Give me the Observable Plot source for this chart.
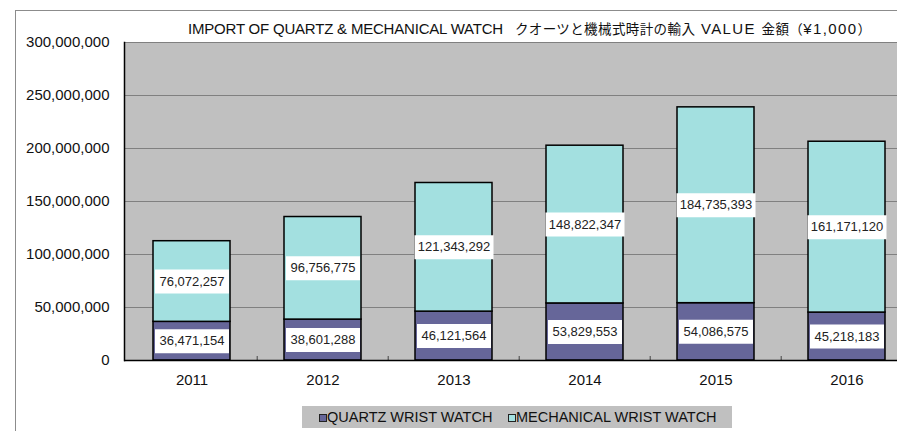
<!DOCTYPE html>
<html>
<head>
<meta charset="utf-8">
<script src="https://cdn.jsdelivr.net/npm/d3@7"></script>
<script src="https://cdn.jsdelivr.net/npm/@observablehq/plot@0.6"></script>
<style>
  html, body { margin: 0; padding: 0; background: #fff; overflow: hidden; }
  #wrap { position: relative; width: 897px; height: 431px; overflow: hidden; font-family: "Liberation Sans", Arial, "Noto Sans CJK JP", sans-serif; color: #111; }
  #border { position: absolute; left: 15px; top: 10px; width: 2000px; height: 2000px; border-left: 1px solid #8c8c8c; border-top: 1px solid #8c8c8c; }
  #chart { position: absolute; left: 0; top: 0; }
  #title { position: absolute; left: 188px; top: 21px; font-size: 15px; line-height: 15px; white-space: pre; font-family: "Liberation Sans", Arial, "Noto Sans CJK JP", sans-serif; }
  #title .lat { font-size: 15px; letter-spacing: -0.2px; }
  #title .wide { font-size: 15px; letter-spacing: 1.4px; }
  #title .cjk { font-size: 13.5px; letter-spacing: 0.4px; font-family: "Noto Sans CJK JP", sans-serif; }
  #legend { position: absolute; left: 302px; top: 406px; width: 430px; height: 22px; background: #C0C0C0; font-size: 14.5px; }
  .item { position: absolute; top: 3px; line-height: 16px; white-space: nowrap; }
  .sw { position: absolute; top: 4px; width: 6px; height: 6px; border: 1px solid #222; }
</style>
</head>
<body>
<div id="wrap">
  <div id="border"></div>
  <div id="chart"></div>
  <div id="title"></div>
  <div id="legend"></div>
</div>
<script>
const years = ["2011", "2012", "2013", "2014", "2015", "2016"];
const seriesNames = ["QUARTZ WRIST WATCH", "MECHANICAL WRIST WATCH"];
const seriesColors = ["#666699", "#A3E0E0"];
const quartz = [36471154, 38601288, 46121564, 53829553, 54086575, 45218183];
const mechanical = [76072257, 96756775, 121343292, 148822347, 184735393, 161171120];
const yTicks = [0, 50000000, 100000000, 150000000, 200000000, 250000000, 300000000];
const titleParts = [
  ["lat", "IMPORT OF QUARTZ & MECHANICAL WATCH   "],
  ["cjk", "クオーツと機械式時計の輸入"],
  ["wide", " VALUE "],
  ["cjk", "金額（"],
  ["wide", "¥1,000"],
  ["cjk", "）"]
];

const data = [];
years.forEach((y, i) => data.push({year: y, series: seriesNames[0], value: quartz[i]}));
years.forEach((y, i) => data.push({year: y, series: seriesNames[1], value: mechanical[i]}));

const fmt = d3.format(",");
const boxShort = {draw(ctx) { ctx.rect(-37, -12, 74, 24); }};
const boxLong = {draw(ctx) { ctx.rect(-39.5, -12, 79, 24); }};

const chart = Plot.plot({
  width: 914,
  height: 431,
  marginLeft: 124,
  marginRight: 0,
  marginTop: 42,
  marginBottom: 71,
  style: {fontFamily: "Liberation Sans, Arial, sans-serif", fontSize: "15px", background: "transparent", color: "#111", maxWidth: "none"},
  x: {domain: years, paddingInner: 0.41, paddingOuter: 0.205, label: null},
  y: {domain: [0, 300000000], label: null},
  color: {domain: seriesNames, range: seriesColors},
  symbol: {type: "identity"},
  marks: [
    Plot.frame({fill: "#C0C0C0", stroke: "none"}),
    Plot.gridY(yTicks, {stroke: "#808080", strokeOpacity: 1, strokeWidth: 1}),
    Plot.barY(data, Plot.stackY({x: "year", y: "value", z: "series", fill: "series", stroke: "#000", strokeWidth: 1.5})),
    Plot.dot(data, Plot.stackY({x: "year", y: "value", z: "series", symbol: d => d.value >= 100000000 ? boxLong : boxShort, fill: "white", stroke: "none"})),
    Plot.text(data, Plot.stackY({x: "year", y: "value", z: "series", text: d => fmt(d.value), fontSize: 13, fill: "#222"})),
    Plot.ruleX(years.slice(1), {x: d => d, dx: -65.8, y1: 0, y2: 0, insetTop: -4, stroke: "#444"}),
    Plot.ruleY([0], {stroke: "#000", strokeWidth: 1.5}),
    Plot.frame({anchor: "left", stroke: "#000", strokeWidth: 1.5}),
    Plot.axisY(yTicks, {tickFormat: fmt, tickSize: 0, tickPadding: 15, fontSize: 15}),
    Plot.axisX({tickSize: 0, tickPadding: 14, fontSize: 15})
  ]
});
document.getElementById("chart").appendChild(chart);

const title = document.getElementById("title");
titleParts.forEach(([cls, txt]) => {
  const s = document.createElement("span");
  s.className = cls;
  s.textContent = txt;
  title.appendChild(s);
});

const legend = document.getElementById("legend");
const itemLefts = [17, 206];
seriesNames.forEach((name, i) => {
  const sw = document.createElement("div");
  sw.className = "sw";
  sw.style.left = itemLefts[i] + "px";
  sw.style.top = "8px";
  sw.style.background = seriesColors[i];
  legend.appendChild(sw);
  const it = document.createElement("div");
  it.className = "item";
  it.style.left = (itemLefts[i] + 8) + "px";
  it.textContent = name;
  legend.appendChild(it);
});
</script>
</body>
</html>
